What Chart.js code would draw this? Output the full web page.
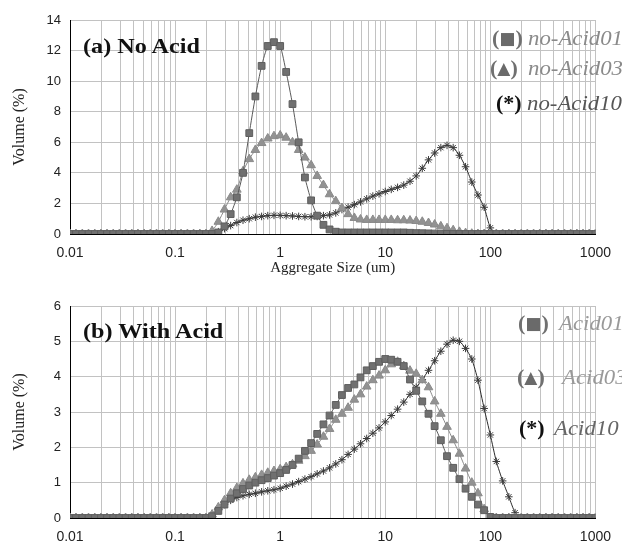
<!DOCTYPE html>
<html><head><meta charset="utf-8">
<script src="https://cdn.jsdelivr.net/npm/chart.js@4"></script>
<style>
html,body{margin:0;padding:0;background:#fff;width:622px;height:546px;overflow:hidden;position:relative;}
canvas{position:absolute;left:0;}
#cTop{top:0;}
#cBot{top:280px;}
.t{position:absolute;white-space:nowrap;font-family:'Liberation Serif','Times New Roman',serif;line-height:1;transform-origin:0 50%;}
.panel{font-weight:bold;font-size:22px;color:#111;transform:scaleX(1.1);}
.par{font-weight:bold;font-size:22px;color:#707070;}
.par span{font-family:'DejaVu Sans',sans-serif;font-size:17px;position:relative;top:-1px;color:#6a6a6a;}
.lab{font-style:italic;font-size:20px;color:#8a8a8a;transform:scaleX(1.14);}
</style></head>
<body>
<canvas id="cTop" width="622" height="280"></canvas>
<canvas id="cBot" width="622" height="266"></canvas>

<div class="t panel" style="left:83px;top:35px">(a) No Acid</div>
<div class="t panel" style="left:83px;top:320px">(b) With Acid</div>

<div class="t par" style="left:492px;top:27px">(<span>&#9632;</span>)</div>
<div class="t lab" style="left:528px;top:28px">no-Acid01</div>
<div class="t par" style="left:490px;top:57px">(<span>&#9650;</span>)</div>
<div class="t lab" style="left:528px;top:58px">no-Acid03</div>
<div class="t par" style="left:496px;top:92px;color:#111">(*)</div>
<div class="t lab" style="left:527px;top:93px;color:#555">no-Acid10</div>

<div class="t par" style="left:518px;top:312px">(<span>&#9632;</span>)</div>
<div class="t lab" style="left:559px;top:313px;color:#999">Acid01</div>
<div class="t par" style="left:517px;top:366px">(<span>&#9650;</span>)</div>
<div class="t lab" style="left:562px;top:367px;color:#999">Acid03</div>
<div class="t par" style="left:519px;top:417px;color:#111">(*)</div>
<div class="t lab" style="left:554px;top:418px;color:#666">Acid10</div>

<script>
// Particle size classes (um)
const sizes = [
 0.0100,0.0114,0.0131,0.0150,0.0172,0.0197,0.0225,0.0258,0.0295,0.0338,0.0387,0.0443,0.0508,0.0581,0.0666,0.0762,0.0873,
 0.100,0.114,0.131,0.150,0.172,0.197,0.225,0.258,0.295,0.338,0.387,0.443,0.508,0.581,0.666,0.762,0.873,
 1.00,1.14,1.31,1.50,1.72,1.97,2.25,2.58,2.95,3.38,3.87,4.43,5.08,5.81,6.66,7.62,8.73,
 10.0,11.4,13.1,15.0,17.2,19.7,22.5,25.8,29.5,33.8,38.7,44.3,50.8,58.1,66.6,76.2,87.3,
 100,114,131,150,172,197,225,258,295,338,387,443,508,581,666,762,873,1000
];

const xTickValues = [0.01, 0.1, 1, 10, 100, 1000];
const xTickLabels = ['0.01', '0.1', '1', '10', '100', '1000'];
const topYLabels = [0, 2, 4, 6, 8, 10, 12, 14];
const botYLabels = [0, 1, 2, 3, 4, 5, 6];

// (a) No Acid
const noAcid01 = [
 0,0,0,0,0,0,0,0,0,0, 0,0,0,0,0,0,0,0,0,0, 0,0,0,0,
 0.1,0.5,1.3,2.4,4.0,6.6,9.0,11.0,12.3,12.55,
 12.3,10.6,8.5,6.0,3.7,2.2,1.2,0.6,0.3,0.15,
 0.1,0.1,0.1,0.1,0.1,0.1,0.1,0.1,0.1,0.1,
 0.1,0.08,0.06,0.05,0.04,0.03,0.02,0.01,
 0,0,0,0,0,0,0,0,0,0, 0,0,0,0,0,0,0,0,0,0, 0,0,0,0
];
const noAcid03 = [
 0,0,0,0,0,0,0,0,0,0, 0,0,0,0,0,0,0,0,0,0, 0,0,0,
 0.2,0.8,1.6,2.4,2.9,4.1,4.9,
 5.5,5.95,6.25,6.4,6.45,6.3,6.0,5.5,5.0,4.5,
 3.8,3.2,2.6,2.15,1.7,1.3,1.05,0.95,0.92,0.92,
 0.92,0.92,0.92,0.9,0.9,0.88,0.85,0.8,0.72,0.62,
 0.5,0.38,0.25,0.14,0.06,0.02,
 0,0,0,0,0,0,0,0,0,0, 0,0,0,0,0,0,0,0,0,0
];
const noAcid10 = [
 0,0,0,0,0,0,0,0,0,0, 0,0,0,0,0,0,0,0,0,0, 0,0,0,
 0.02,0.15,0.35,0.55,0.75,0.9,1.0,
 1.1,1.15,1.2,1.22,1.22,1.2,1.18,1.15,1.13,1.13,
 1.15,1.2,1.25,1.38,1.6,1.75,1.92,2.1,2.3,2.48,
 2.63,2.78,2.92,3.05,3.2,3.45,3.8,4.3,4.85,5.3,
 5.65,5.8,5.65,5.15,4.4,3.4,2.55,1.75,0.4,
 0,0,0,0,0,0,0,0,0,0, 0,0,0,0,0,0,0
];

// (b) With Acid
const acid01 = [
 0,0,0,0,0,0,0,0,0,0, 0,0,0,0,0,0,0,0,0,0, 0,0,0,
 0.05,0.2,0.38,0.55,0.7,0.82,0.92,
 1.0,1.07,1.13,1.2,1.27,1.36,1.5,1.68,1.9,2.12,
 2.38,2.65,2.9,3.2,3.48,3.68,3.78,3.98,4.18,4.3,
 4.42,4.5,4.48,4.42,4.3,3.92,3.6,3.3,2.95,2.6,
 2.2,1.75,1.42,1.1,0.83,0.6,0.38,0.22,0.03,
 0,0,0,0,0,0,0,0,0,0, 0,0,0,0,0,0,0
];
const acid03 = [
 0,0,0,0,0,0,0,0,0,0, 0,0,0,0,0,0,0,0,0,0, 0,0,0,
 0.1,0.3,0.5,0.7,0.85,0.98,1.08,
 1.15,1.22,1.28,1.33,1.38,1.44,1.52,1.62,1.75,1.9,
 2.08,2.3,2.52,2.78,2.95,3.12,3.35,3.5,3.72,3.9,
 4.03,4.18,4.35,4.42,4.3,4.17,4.08,3.9,3.7,3.3,
 2.95,2.58,2.2,1.82,1.4,1.0,0.7,0.25,0,
 0,0,0,0,0,0,0,0,0,0, 0,0,0,0,0,0,0
];
const acid10 = [
 0,0,0,0,0,0,0,0,0,0, 0,0,0,0,0,0,0,0,0,0, 0,0,0,
 0.05,0.25,0.38,0.5,0.58,0.63,0.67,
 0.7,0.74,0.77,0.8,0.84,0.9,0.96,1.03,1.1,1.17,
 1.25,1.33,1.42,1.53,1.65,1.8,1.95,2.1,2.25,2.4,
 2.55,2.72,2.9,3.08,3.28,3.5,3.7,3.92,4.18,4.45,
 4.72,4.92,5.03,5.0,4.8,4.5,3.9,3.1,2.35,1.6,
 1.05,0.6,0.15,
 0,0,0,0,0,0,0,0,0,0, 0,0,0
];

// gridline positions on the log axis: 1..9 x each decade
const xGrid = [];
for (let d = 0; d < xTickValues.length - 1; d++) {
  for (let m = 1; m <= 9; m++) xGrid.push(+(m * xTickValues[d]).toPrecision(6));
}
xGrid.push(xTickValues[xTickValues.length - 1]);

function pts(ys) { return sizes.map((x, i) => ({ x: x, y: ys[i] })); }

const STY = {
  sq:   { pointStyle: 'rect', pointRadius: 4.8, backgroundColor: '#707070', borderColor: '#5a5a5a', pointBorderColor: '#5e5e5e', pointBackgroundColor: '#707070' },
  tri:  { pointStyle: 'triangle', pointRadius: 5, backgroundColor: '#8e8e8e', borderColor: '#8a8a8a', pointBorderColor: '#8a8a8a', pointBackgroundColor: '#929292' },
  star: { pointStyle: 'star', pointRadius: 3.8, backgroundColor: '#333', borderColor: '#2a2a2a', pointBorderColor: '#3a3a3a', pointBackgroundColor: '#3a3a3a' }
};

function ds(label, ys, st) {
  return Object.assign({ label: label, data: pts(ys), borderWidth: 1, pointBorderWidth: 1, tension: 0.2, pointHoverRadius: 4 }, st);
}

function makeChart(id, datasets, yMax, yLabels, xAxisHeight, padTop, showXTitle) {
  const yGrid = [];
  for (let v = 0; v <= yMax; v++) yGrid.push(v);
  return new Chart(document.getElementById(id), {
    type: 'line',
    data: { datasets: datasets },
    options: {
      responsive: false,
      animation: false,
      devicePixelRatio: 1,
      layout: { padding: { top: padTop, right: 24, left: 0, bottom: 0 } },
      plugins: { legend: { display: false }, tooltip: { enabled: false } },
      scales: {
        x: {
          type: 'logarithmic', min: 0.01, max: 1000,
          afterBuildTicks: s => { s.ticks = xGrid.map(v => ({ value: v })); },
          afterFit: s => { s.height = xAxisHeight; },
          ticks: {
            autoSkip: false, maxRotation: 0, minRotation: 0, padding: 11, color: '#222',
            font: { family: "'Liberation Sans', Arial, sans-serif", size: 14 },
            callback: v => { const k = xTickValues.findIndex(t => Math.abs(t - v) < t * 1e-6); return k >= 0 ? xTickLabels[k] : ''; }
          },
          grid: { color: '#c2c2c2', lineWidth: 1, drawTicks: false },
          border: { color: '#000', width: 1 },
          title: { display: showXTitle, text: 'Aggregate Size (um)', color: '#222',
                   font: { family: "'Liberation Serif', 'Times New Roman', serif", size: 15 }, padding: { top: 0, bottom: 3 } }
        },
        y: {
          min: 0, max: yMax,
          afterBuildTicks: s => { s.ticks = yGrid.map(v => ({ value: v })); },
          afterFit: s => { s.width = 70; },
          ticks: {
            padding: 9, color: '#222',
            font: { family: "'Liberation Sans', Arial, sans-serif", size: 13 },
            callback: v => (yLabels.indexOf(v) >= 0 ? String(v) : '')
          },
          grid: { color: '#c2c2c2', lineWidth: 1, drawTicks: false },
          border: { color: '#000', width: 1 },
          title: { display: true, text: 'Volume (%)', color: '#222',
                   font: { family: "'Liberation Serif', 'Times New Roman', serif", size: 16 }, padding: { top: 10, bottom: 0 } }
        }
      }
    }
  });
}

makeChart('cTop', [
  ds('no-Acid01', noAcid01, STY.sq),
  ds('no-Acid03', noAcid03, STY.tri),
  ds('no-Acid10', noAcid10, STY.star)
], 14, topYLabels, 46, 20, true);

makeChart('cBot', [
  ds('Acid01', acid01, STY.sq),
  ds('Acid03', acid03, STY.tri),
  ds('Acid10', acid10, STY.star)
], 6, botYLabels, 28, 26, false);
</script>
</body></html>
